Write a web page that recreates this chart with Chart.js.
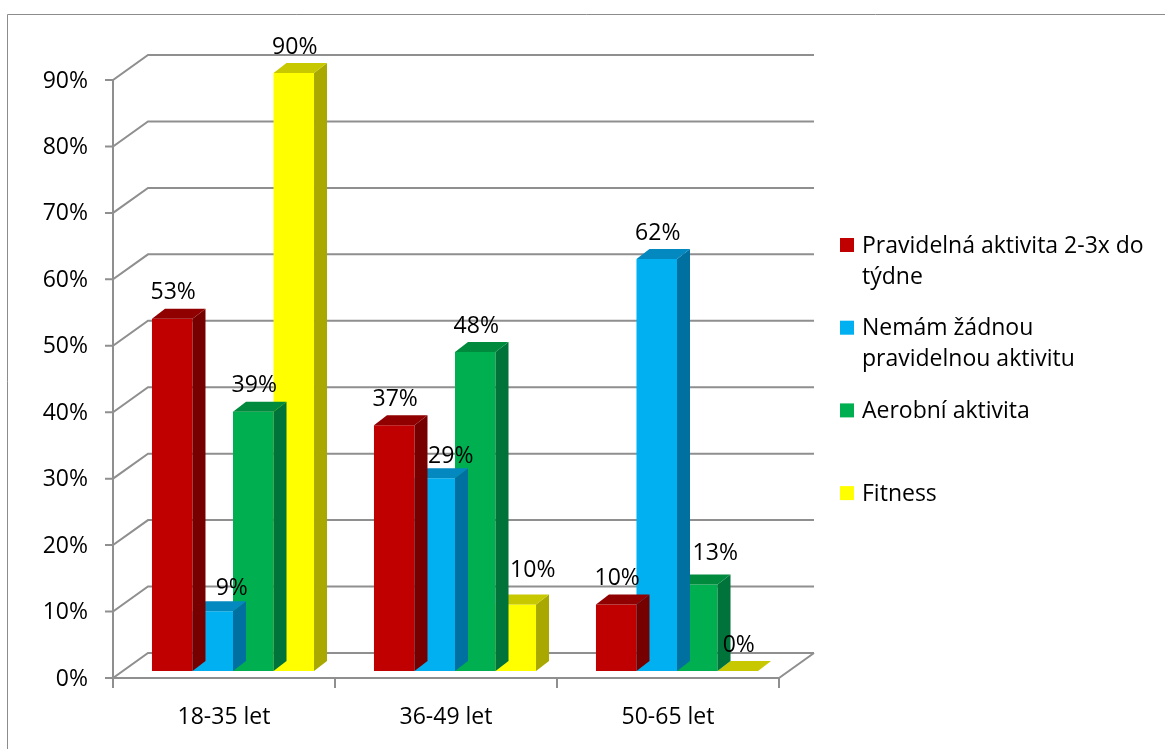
<!DOCTYPE html>
<html>
<head>
<meta charset="utf-8">
<script src="https://cdn.jsdelivr.net/npm/chart.js@4.4.0/dist/chart.umd.min.js"></script>
<style>
  html, body { margin: 0; padding: 0; background: #fff; }
  #wrap { width: 1165px; height: 749px; }
</style>
</head>
<body>
<div id="wrap"><canvas id="chartBar" width="1165" height="749"></canvas></div>
<script>
const categories = ["18-35 let", "36-49 let", "50-65 let"];
const seriesNames = [
  "Pravidelná aktivita 2-3x do týdne",
  "Nemám žádnou pravidelnou aktivitu",
  "Aerobní aktivita",
  "Fitness",
];
const pravidelna = [53, 37, 10];
const zadna = [9, 29, 62];
const aerobni = [39, 48, 13];
const fitness = [90, 10, 0];
const yTicks = [0, 10, 20, 30, 40, 50, 60, 70, 80, 90];
const yTickLabels = ["0%", "10%", "20%", "30%", "40%", "50%", "60%", "70%", "80%", "90%"];

const FONT = '23px "Open Sans", sans-serif';
const GRID = "#8f8f8f";

// 3D look: offsets of the front frame, back wall and bar depth from the bar plane
const FRONT = { dx: -9, dy: 7 };
const BACK = { dx: 26, dy: -18 };
const DEPTH = { dx: 13, dy: -10 };

const topColors = ["#900000", "#0388bf", "#008a3d", "#c8c800"];
const sideColors = ["#760000", "#0070a0", "#00733a", "#a8a800"];

// labels that Excel had moved by hand
const labelNudge = { "1-0": [18, 3], "1-1": [15, 4], "3-1": [16, -8], "2-2": [17, -5] };

const frame3d = {
  id: "frame3d",
  beforeDraw(chart) {
    const ctx = chart.ctx;
    ctx.save();
    ctx.strokeStyle = "#8c8c8c";
    ctx.lineWidth = 1;
    ctx.beginPath();
    ctx.moveTo(7.5, 749);
    ctx.lineTo(7.5, 14.5);
    ctx.lineTo(1165, 14.5);
    ctx.stroke();
    ctx.restore();
  },
  beforeDatasetsDraw(chart) {
    const { ctx, chartArea: { left, right } } = chart;
    const y = chart.scales.y;
    const x = chart.scales.x;
    ctx.save();
    ctx.strokeStyle = GRID;
    ctx.lineWidth = 2;
    ctx.font = FONT;
    ctx.fillStyle = "#000";

    yTicks.forEach((v, i) => {
      const py = y.getPixelForValue(v);
      ctx.beginPath();
      ctx.moveTo(left + FRONT.dx - 8, py + FRONT.dy);
      ctx.lineTo(left + FRONT.dx, py + FRONT.dy);
      ctx.lineTo(left + BACK.dx, py + BACK.dy);
      ctx.lineTo(right + BACK.dx, py + BACK.dy);
      ctx.stroke();
      ctx.textAlign = "right";
      ctx.textBaseline = "middle";
      ctx.fillText(yTickLabels[i], left + FRONT.dx - 25, py + FRONT.dy + 1);
    });

    const y0 = y.getPixelForValue(0);
    const yMax = y.getPixelForValue(yTicks[yTicks.length - 1]);
    ctx.beginPath();
    ctx.moveTo(left + FRONT.dx, yMax + FRONT.dy);
    ctx.lineTo(left + FRONT.dx, y0 + FRONT.dy);
    ctx.lineTo(right + FRONT.dx, y0 + FRONT.dy);
    ctx.lineTo(right + BACK.dx, y0 + BACK.dy);
    ctx.stroke();

    const catW = (right - left) / categories.length;
    for (let i = 0; i <= categories.length; i++) {
      const px = left + i * catW + FRONT.dx;
      ctx.beginPath();
      ctx.moveTo(px, y0 + FRONT.dy);
      ctx.lineTo(px, y0 + FRONT.dy + 10);
      ctx.stroke();
    }

    ctx.textAlign = "center";
    categories.forEach((c, i) => {
      ctx.fillText(c, x.getPixelForValue(i) + FRONT.dx, 717);
    });
    ctx.restore();
  },
  afterDatasetDraw(chart, args) {
    const ctx = chart.ctx;
    const di = args.index;
    ctx.save();
    args.meta.data.forEach((bar) => {
      const { x, y, base, width } = bar.getProps(["x", "y", "base", "width"], true);
      const l = x - width / 2;
      const r = x + width / 2;
      ctx.fillStyle = sideColors[di];
      ctx.beginPath();
      ctx.moveTo(r, y);
      ctx.lineTo(r + DEPTH.dx, y + DEPTH.dy);
      ctx.lineTo(r + DEPTH.dx, base + DEPTH.dy);
      ctx.lineTo(r, base);
      ctx.closePath();
      ctx.fill();
      ctx.fillStyle = topColors[di];
      ctx.beginPath();
      ctx.moveTo(l, y);
      ctx.lineTo(l + DEPTH.dx, y + DEPTH.dy);
      ctx.lineTo(r + DEPTH.dx, y + DEPTH.dy);
      ctx.lineTo(r, y);
      ctx.closePath();
      ctx.fill();
    });
    ctx.restore();
  },
  afterDraw(chart) {
    const ctx = chart.ctx;
    ctx.save();
    ctx.font = FONT;
    ctx.fillStyle = "#000";
    ctx.textAlign = "center";
    ctx.textBaseline = "middle";
    chart.data.datasets.forEach((ds, di) => {
      chart.getDatasetMeta(di).data.forEach((bar, i) => {
        const n = labelNudge[di + "-" + i] || [0, 0];
        ctx.fillText(ds.data[i] + "%", bar.x + 1 + n[0], bar.y - 26 + n[1]);
      });
    });

    // legend
    ctx.textAlign = "left";
    chart.data.datasets.forEach((ds, di) => {
      const cy = 245 + di * 82.7;
      ctx.fillStyle = ds.backgroundColor;
      ctx.fillRect(840, cy - 7, 14, 14);
      ctx.fillStyle = "#000";
      const words = ds.label.split(" ");
      const lines = [];
      let line = "";
      words.forEach((w) => {
        const t = line ? line + " " + w : w;
        if (ctx.measureText(t).width > 295 && line) {
          lines.push(line);
          line = w;
        } else {
          line = t;
        }
      });
      lines.push(line);
      lines.forEach((t, k) => ctx.fillText(t, 862, cy + 1 + k * 31));
    });
    ctx.restore();
  },
};

new Chart(document.getElementById("chartBar"), {
  type: "bar",
  data: {
    labels: categories,
    datasets: [
      { label: seriesNames[0], data: pravidelna, backgroundColor: "#C00000" },
      { label: seriesNames[1], data: zadna, backgroundColor: "#00B0F0" },
      { label: seriesNames[2], data: aerobni, backgroundColor: "#00B050" },
      { label: seriesNames[3], data: fitness, backgroundColor: "#FFFF00" },
    ],
  },
  options: {
    responsive: false,
    animation: false,
    layout: {
      padding: { left: 122, right: 377, top: 73, bottom: 78 },
    },
    datasets: {
      bar: {
        categoryPercentage: 0.73,
        barPercentage: 1,
        borderWidth: 0,
      },
    },
    scales: {
      x: { display: false },
      y: { display: false, min: 0, max: 90 },
    },
    plugins: {
      legend: { display: false },
      tooltip: { enabled: false },
    },
  },
  plugins: [frame3d],
});
</script>
</body>
</html>
